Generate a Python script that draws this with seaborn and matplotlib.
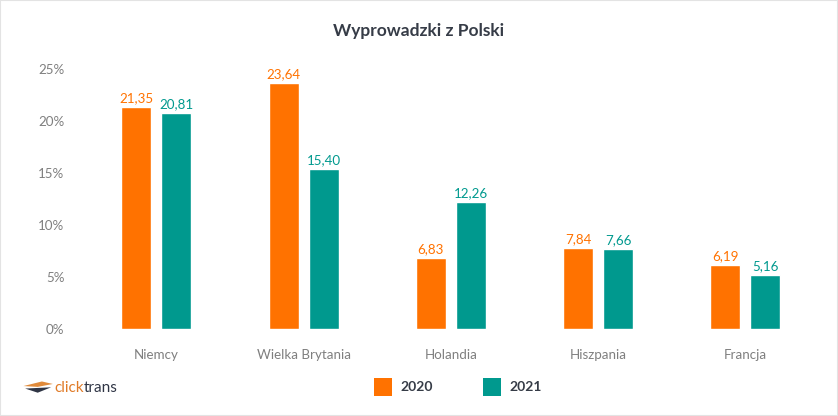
import pandas as pd
import numpy as np
import matplotlib.pyplot as plt
import seaborn as sns
from matplotlib.patches import Rectangle, Polygon

countries = ['Niemcy', 'Wielka Brytania', 'Holandia', 'Hiszpania', 'Francja']
years = ['2020', '2021']
share_2020 = [21.35, 23.64, 6.83, 7.84, 6.19]
share_2021 = [20.81, 15.40, 12.26, 7.66, 5.16]
y_ticks = [0, 5, 10, 15, 20, 25]

orange = '#ff7200'
teal = '#00998e'
dark = '#363c47'
grey = '#7f7f7f'

df = pd.DataFrame({
    'Kraj': countries * 2,
    'Rok': ['2020'] * len(countries) + ['2021'] * len(countries),
    'Udzial': share_2020 + share_2021,
})

sns.set_style('white')
plt.rcParams['font.family'] = ['Lato', 'DejaVu Sans']

fig = plt.figure(figsize=(8.38, 4.16), dpi=100)
ax = fig.add_axes([0.09, 0.209, 0.895, 0.625])

sns.barplot(data=df, x='Kraj', y='Udzial', hue='Rok', order=countries,
            hue_order=years, palette=[orange, teal], width=0.543, gap=0.25,
            saturation=1, legend=False, ax=ax)

# etykiety wartości nad słupkami
for cont, col in zip(ax.containers, [orange, teal]):
    ax.bar_label(cont, labels=[f'{v:.2f}'.replace('.', ',') for v in cont.datavalues],
                 color=col, fontsize=9.6, padding=2)

ax.set_xlim(-0.55, 4.545)
ax.set_ylim(0, 25)
ax.set_yticks(y_ticks)
ax.set_yticklabels([f'{t}%' for t in y_ticks])
ax.tick_params(axis='both', length=0, labelsize=9.6, labelcolor=grey)
ax.tick_params(axis='x', pad=14)
ax.tick_params(axis='y', pad=8)
ax.set_xlabel('')
ax.set_ylabel('')
sns.despine(ax=ax, left=True, bottom=True)

fig.text(0.5, 0.925, 'Wyprowadzki z Polski', ha='center', va='center',
         fontsize=12.5, fontweight='bold', color=dark)

# legenda na dole
for x0, col, lab in [(0.446, orange, '2020'), (0.576, teal, '2021')]:
    fig.patches.append(Rectangle((x0, 0.048), 0.0215, 0.043, transform=fig.transFigure,
                                 facecolor=col, edgecolor='none'))
    fig.text(x0 + 0.032, 0.069, lab, ha='left', va='center', fontsize=10,
             fontweight='bold', color=dark)

# logo clicktrans
fig.patches.append(Polygon([(0.028, 0.072), (0.05, 0.083), (0.063, 0.077), (0.045, 0.07)],
                           closed=True, transform=fig.transFigure, facecolor='#e08a3a', edgecolor='none'))
fig.patches.append(Polygon([(0.03, 0.066), (0.061, 0.069), (0.045, 0.056)],
                           closed=True, transform=fig.transFigure, facecolor='#2f3545', edgecolor='none'))
t1 = fig.text(0.065, 0.067, 'click', ha='left', va='center', fontsize=11, color='#e07b28')
fig.canvas.draw()
bb = t1.get_window_extent().transformed(fig.transFigure.inverted())
fig.text(bb.x1, 0.067, 'trans', ha='left', va='center', fontsize=11, color='#2f3545')

# cienka ramka
fig.patches.append(Rectangle((0, 0), 1, 1, transform=fig.transFigure, fill=False,
                             edgecolor='#e3e3e3', linewidth=1.5))

fig.savefig('out.png', dpi=100)
